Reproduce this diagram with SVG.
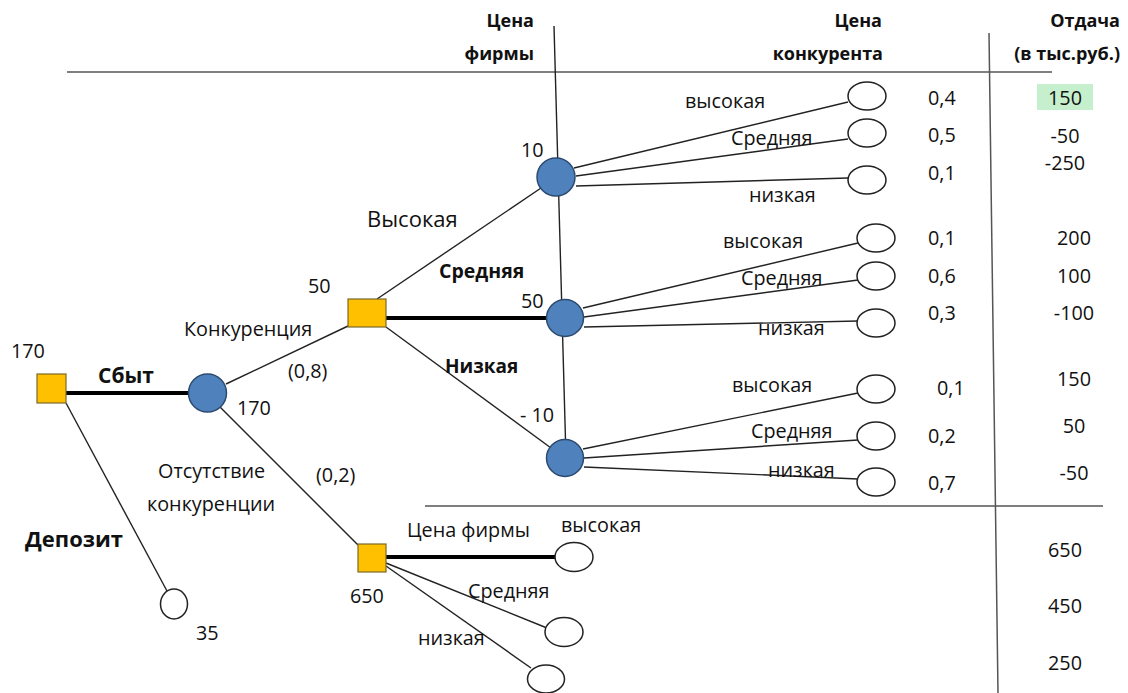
<svg xmlns="http://www.w3.org/2000/svg" width="1128" height="693" viewBox="0 0 1128 693">
<style>
text{font-family:"Open Sans","Noto Sans",sans-serif;font-size:19.8px;fill:#111}
.b{font-weight:bold;font-size:19px}
.h{font-weight:bold;font-size:18px;text-anchor:end}
.m{text-anchor:middle}
.ln{stroke:#222;stroke-width:1.4;fill:none}
.thick{stroke:#000;stroke-width:4;fill:none}
.grid{stroke:#555;stroke-width:1.5;fill:none}
.dec{fill:#FFC000;stroke:#7a6a2a;stroke-width:1.2}
.ch{fill:#4F81BD;stroke:#2c4a70;stroke-width:1.5}
.end{fill:#fff;stroke:#222;stroke-width:1.5}
</style>
<rect width="1128" height="693" fill="#fff"/>
<g id="grid">
<line class="grid" x1="67" y1="72" x2="1052" y2="72"/>
<line class="grid" x1="425" y1="506" x2="1103" y2="506"/>
<line class="grid" x1="989" y1="33" x2="998" y2="693"/>
</g>
<g id="connectors">
<line class="thick" x1="66" y1="393" x2="190" y2="393"/>
<line class="ln" x1="66" y1="403" x2="167" y2="591"/>
<line class="ln" x1="226" y1="384" x2="348" y2="326"/>
<line class="ln" x1="217" y1="404" x2="358" y2="545"/>
<line class="ln" x1="554" y1="26" x2="566" y2="458"/>
<line class="ln" x1="377" y1="299" x2="541" y2="188"/>
<line class="thick" x1="386" y1="318" x2="548" y2="318"/>
<line class="ln" x1="386" y1="327" x2="551" y2="448"/>
<line class="ln" x1="574" y1="168" x2="848" y2="102"/>
<line class="ln" x1="576" y1="176" x2="848" y2="139"/>
<line class="ln" x1="576" y1="186" x2="848" y2="178"/>
<line class="ln" x1="583" y1="308" x2="858" y2="243"/>
<line class="ln" x1="584" y1="317" x2="858" y2="280"/>
<line class="ln" x1="584" y1="327" x2="858" y2="321"/>
<line class="ln" x1="583" y1="449" x2="858" y2="393"/>
<line class="ln" x1="584" y1="458" x2="858" y2="440"/>
<line class="ln" x1="584" y1="467" x2="858" y2="479"/>
<line class="thick" x1="386" y1="557" x2="556" y2="557"/>
<line class="ln" x1="386" y1="563" x2="547" y2="628"/>
<line class="ln" x1="386" y1="566" x2="531" y2="668"/>
</g>
<g id="n-root"><rect class="dec" x="37" y="374" width="29" height="29"/></g>
<g id="n-market"><circle class="ch" cx="207.5" cy="393" r="19"/></g>
<g id="n-price"><rect class="dec" x="348" y="299" width="38" height="28"/></g>
<g id="n-price2"><rect class="dec" x="358" y="544" width="28" height="28"/></g>
<g id="n-high"><circle class="ch" cx="556" cy="177" r="19"/></g>
<g id="n-mid"><circle class="ch" cx="565" cy="318" r="18.5"/></g>
<g id="n-low"><circle class="ch" cx="565" cy="458" r="18.5"/></g>
<g id="n-deposit"><ellipse class="end" cx="174" cy="604" rx="13.5" ry="15"/></g>
<g id="n-t1"><ellipse class="end" cx="867" cy="96" rx="19" ry="14"/></g>
<g id="n-t2"><ellipse class="end" cx="867" cy="133" rx="19" ry="14"/></g>
<g id="n-t3"><ellipse class="end" cx="867" cy="180" rx="19" ry="14"/></g>
<g id="n-t4"><ellipse class="end" cx="876" cy="238" rx="19" ry="14"/></g>
<g id="n-t5"><ellipse class="end" cx="876" cy="276" rx="19" ry="14"/></g>
<g id="n-t6"><ellipse class="end" cx="876" cy="323" rx="19" ry="14"/></g>
<g id="n-t7"><ellipse class="end" cx="876" cy="389" rx="19" ry="14"/></g>
<g id="n-t8"><ellipse class="end" cx="876" cy="436" rx="19" ry="14"/></g>
<g id="n-t9"><ellipse class="end" cx="876" cy="482" rx="19" ry="14"/></g>
<g id="n-t10"><ellipse class="end" cx="574" cy="557" rx="19" ry="14.5"/></g>
<g id="n-t11"><ellipse class="end" cx="564" cy="632" rx="19" ry="14.5"/></g>
<g id="n-t12"><ellipse class="end" cx="546" cy="679" rx="18.5" ry="14"/></g>
<g id="labels">
<text class="h" x="534" y="27">Цена</text>
<text class="h" x="534" y="60">фирмы</text>
<text class="h" x="882" y="27">Цена</text>
<text class="h" x="883" y="60">конкурента</text>
<text class="h" x="1120" y="27">Отдача</text>
<text class="h" x="1120" y="60">(в тыс.руб.)</text>
<text x="11" y="358">170</text>
<text class="b" x="98" y="383" style="font-size:21px">Сбыт</text>
<text x="184" y="336">Конкуренция</text>
<text x="288" y="378">(0,8)</text>
<text x="237" y="415">170</text>
<text x="158" y="478">Отсутствие</text>
<text x="147" y="511">конкуренции</text>
<text x="316" y="482">(0,2)</text>
<text class="b" x="25" y="547" style="font-size:22px">Депозит</text>
<text x="196" y="640">35</text>
<text x="308" y="293">50</text>
<text x="367" y="227" style="font-size:22px">Высокая</text>
<text class="b" x="439" y="278" style="font-size:19.5px">Средняя</text>
<text x="521" y="308">50</text>
<text class="b" x="445" y="373">Низкая</text>
<text x="520" y="422">- 10</text>
<text x="521" y="157">10</text>
<text x="685" y="108">высокая</text>
<text x="731" y="145">Средняя</text>
<text x="749" y="202">низкая</text>
<text x="928" y="105">0,4</text>
<text x="928" y="142">0,5</text>
<text x="928" y="180">0,1</text>
<rect x="1037" y="84" width="56" height="26" fill="#C6EFCE"/>
<text class="m" x="1065" y="105">150</text>
<text class="m" x="1065" y="143">-50</text>
<text class="m" x="1065" y="170">-250</text>
<text x="723" y="248">высокая</text>
<text x="741" y="285">Средняя</text>
<text x="758" y="335">низкая</text>
<text x="928" y="245">0,1</text>
<text x="928" y="283">0,6</text>
<text x="928" y="320">0,3</text>
<text class="m" x="1074" y="245">200</text>
<text class="m" x="1074" y="283">100</text>
<text class="m" x="1074" y="320">-100</text>
<text x="732" y="392">высокая</text>
<text x="751" y="438">Средняя</text>
<text x="768" y="477">низкая</text>
<text x="937" y="395">0,1</text>
<text x="928" y="443">0,2</text>
<text x="928" y="490">0,7</text>
<text class="m" x="1074" y="386">150</text>
<text class="m" x="1074" y="433">50</text>
<text class="m" x="1074" y="480">-50</text>
<text x="407" y="537">Цена фирмы</text>
<text x="561" y="532">высокая</text>
<text x="468" y="598">Средняя</text>
<text x="418" y="645">низкая</text>
<text x="350" y="603">650</text>
<text class="m" x="1065" y="557">650</text>
<text class="m" x="1065" y="613">450</text>
<text class="m" x="1065" y="670">250</text>
</g>
</svg>
